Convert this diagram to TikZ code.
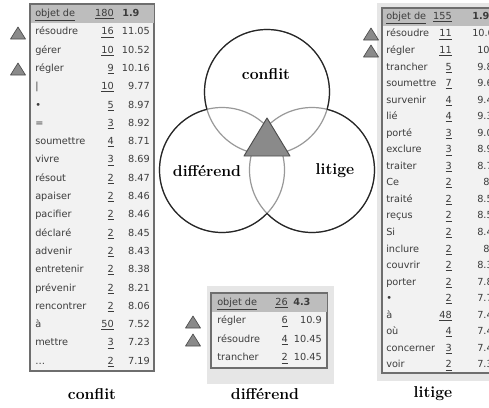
\documentclass[tikz,border=0pt]{standalone}
\usepackage{fontspec}
\setsansfont{DejaVu Sans}
\usetikzlibrary{positioning}
\definecolor{tabgray}{HTML}{F2F2F2}
\definecolor{headgray}{HTML}{BDBDBD}
\definecolor{boxline}{HTML}{6E6E6E}
\definecolor{txtgray}{HTML}{3C3C3C}
\definecolor{panelgray}{HTML}{E6E6E6}
\definecolor{trigray}{HTML}{8A8A8A}
\definecolor{triline}{HTML}{4D4D4D}
\tikzset{
  cell/.style={inner sep=0pt, text height=5.6pt, text depth=1.6pt, text=txtgray, font=\sffamily\fontsize{7.3}{8}\selectfont},
  word/.style={cell, anchor=west},
  count/.style={cell, anchor=east},
  score/.style={cell, anchor=east},
  tabbox/.style={draw=boxline, fill=tabgray, line width=0.9pt},
  headband/.style={fill=headgray},
  panel/.style={fill=panelgray},
  hit/.style={fill=trigray, draw=triline, line width=0.5pt, line join=round},
  vennout/.style={draw=black!85, line width=0.9pt},
  vennin/.style={draw=black!40, line width=0.9pt},
  vennlabel/.style={inner sep=0pt, font=\bfseries\fontsize{11.8}{14}\selectfont}
}
\newcommand{\hitmark}[2]{\draw[hit] (#1,#2) ++(-7.5,6) -- ++(7.5,-12) -- ++(7.5,12) -- cycle;}

\begin{document}
\begin{tikzpicture}[x=0.75pt, y=-0.75pt]
  \clip (0,0) rectangle (489,407);
  \fill[white] (0,0) rectangle (489,407);
  \def\rad{62.5}

  % venn diagram
  \coordinate (c-conflit) at (267,92);
  \coordinate (c-diff) at (222,170);
  \coordinate (c-litige) at (312,170);
  \draw[vennin] (c-conflit) circle [radius=\rad];
  \draw[vennin] (c-diff) circle [radius=\rad];
  \draw[vennin] (c-litige) circle [radius=\rad];
  \begin{scope}[even odd rule]
    \clip (0,0) rectangle (489,407) (c-diff) circle [radius=\rad];
    \clip (0,0) rectangle (489,407) (c-litige) circle [radius=\rad];
    \draw[vennout] (c-conflit) circle [radius=\rad];
  \end{scope}
  \begin{scope}[even odd rule]
    \clip (0,0) rectangle (489,407) (c-conflit) circle [radius=\rad];
    \clip (0,0) rectangle (489,407) (c-litige) circle [radius=\rad];
    \draw[vennout] (c-diff) circle [radius=\rad];
  \end{scope}
  \begin{scope}[even odd rule]
    \clip (0,0) rectangle (489,407) (c-conflit) circle [radius=\rad];
    \clip (0,0) rectangle (489,407) (c-diff) circle [radius=\rad];
    \draw[vennout] (c-litige) circle [radius=\rad];
  \end{scope}
  \draw[hit, line width=0.7pt] (244,156) -- (267,118) -- (290,156) -- cycle;

  \node[vennlabel] (v-conflit) at (266,74) {conflit};
  \node[vennlabel] (v-diff) at (207,171) {différend};
  \node[vennlabel] (v-litige) at (335,171) {litige};

  % table conflit
  \draw[tabbox] (30,4) rectangle (154,371);
  \fill[headband] (30.5,4.5) rectangle (153.5,23);
  \node[word] (cf-h-w) at (35,14) {\underline{objet de}};
  \node[count] (cf-h-n) at (114,14) {\underline{180}};
  \node[word] (cf-h-s) at (122,14) {\bfseries 1.9};
  \foreach \w/\n/\s [count=\i] in {résoudre/16/11.05, gérer/10/10.52, régler/9/10.16,
      |/10/9.77, •/5/8.97, =/3/8.92, soumettre/4/8.71, vivre/3/8.69, résout/2/8.47,
      apaiser/2/8.46, pacifier/2/8.46, déclaré/2/8.45, advenir/2/8.43, entretenir/2/8.38,
      prévenir/2/8.21, rencontrer/2/8.06, à/50/7.52, mettre/3/7.23, …/2/7.19} {
    \node[word] (cf-w-\i) at (35,{23+(\i-0.5)*18.3}) {\w};
    \node[count] (cf-n-\i) at (114,{23+(\i-0.5)*18.3}) {\underline{\n}};
    \node[score] (cf-s-\i) at (150,{23+(\i-0.5)*18.3}) {\s};
  }
  \hitmark{18}{33}
  \hitmark{18}{69}
  \node[vennlabel] (t-conflit) at (92,394) {conflit};

  % table differend
  \fill[panel] (207,286) rectangle (334,384);
  \draw[tabbox] (211,293) rectangle (327,368);
  \fill[headband] (211.5,293.5) rectangle (326.5,312);
  \node[word] (df-h-w) at (217,303) {\underline{objet de}};
  \node[count] (df-h-n) at (288,303) {\underline{26}};
  \node[word] (df-h-s) at (293,303) {\bfseries 4.3};
  \foreach \w/\n/\s [count=\i] in {régler/6/10.9, résoudre/4/10.45, trancher/2/10.45} {
    \node[word] (df-w-\i) at (217,{312+(\i-0.5)*18.5}) {\w};
    \node[count] (df-n-\i) at (288,{312+(\i-0.5)*18.5}) {\underline{\n}};
    \node[score] (df-s-\i) at (322,{312+(\i-0.5)*18.5}) {\s};
  }
  \hitmark{193}{322}
  \hitmark{193}{340}
  \node[vennlabel] (t-diff) at (265,394) {différend};

  % table litige
  \fill[panel] (377,3) rectangle (495,381);
  \draw[tabbox] (382,8) rectangle (500,373);
  \fill[headband] (382.5,8.5) rectangle (499.5,26);
  \node[word] (lt-h-w) at (386,17) {\underline{objet de}};
  \node[count] (lt-h-n) at (452,17) {\underline{155}};
  \node[word] (lt-h-s) at (472,17) {\bfseries 1.9};
  \foreach \w/\n/\s/\x [count=\i] in {résoudre/11/10.6/472, régler/11/10./477,
      trancher/5/9.8/477, soumettre/7/9.6/477, survenir/4/9.4/477, lié/4/9.3/477,
      porté/3/9.0/477, exclure/3/8.9/477, traiter/3/8.7/477, Ce/2/8./483,
      traité/2/8.5/477, reçus/2/8.5/477, Si/2/8.4/477, inclure/2/8./483,
      couvrir/2/8.3/477, porter/2/7.8/477, •/2/7.7/477, à/48/7.4/477,
      où/4/7.4/477, concerner/3/7.4/477, voir/2/7.3/477} {
    \node[word] (lt-w-\i) at (386,{26+(\i-0.5)*16.55}) {\w};
    \node[count] (lt-n-\i) at (452,{26+(\i-0.5)*16.55}) {\underline{\n}};
    \node[word] (lt-s-\i) at (\x,{26+(\i-0.5)*16.55}) {\s};
  }
  \hitmark{371}{34}
  \hitmark{371}{51}
  \node[vennlabel] (t-litige) at (433,394) {litige};
\end{tikzpicture}
\end{document}
